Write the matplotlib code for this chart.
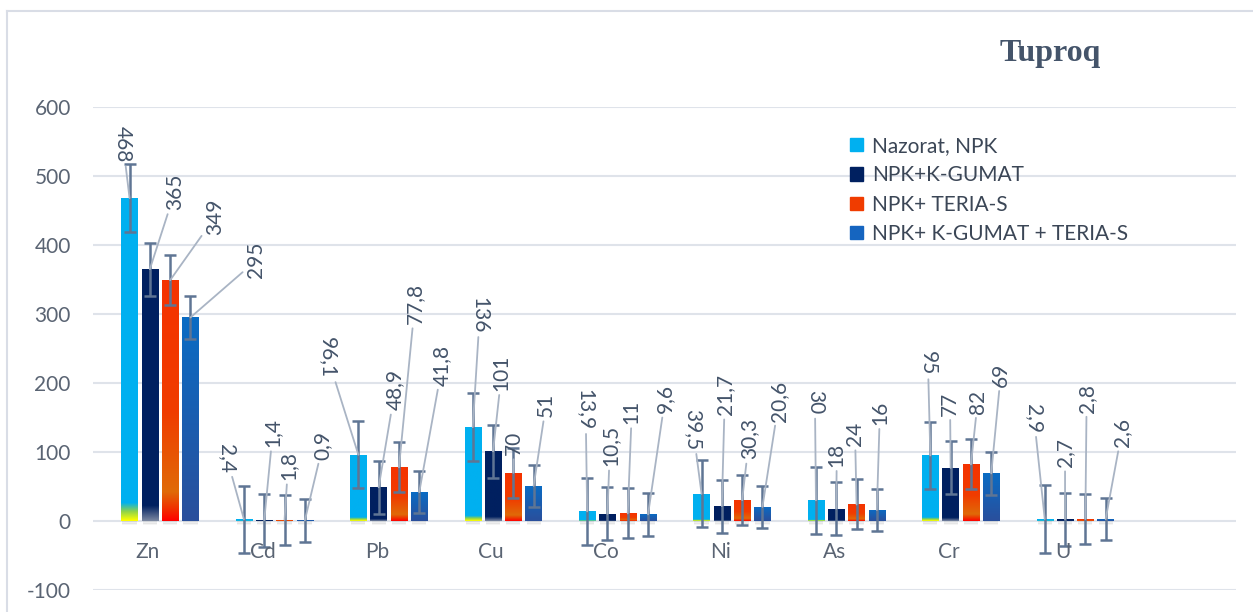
import numpy as np
import matplotlib
matplotlib.use('Agg')
import matplotlib.pyplot as plt
from matplotlib.colors import LinearSegmentedColormap
from matplotlib.patches import Rectangle
from matplotlib.lines import Line2D

# ---------------- data ----------------
categories = ['Zn', 'Cd', 'Pb', 'Cu', 'Co', 'Ni', 'As', 'Cr', 'U']
series_names = ['Nazorat, NPK', 'NPK+K-GUMAT', 'NPK+ TERIA-S', 'NPK+ K-GUMAT + TERIA-S']
nazorat = [468, 2.4, 96.1, 136, 13.9, 39.5, 30, 95, 2.9]
k_gumat = [365, 1.4, 48.9, 101, 10.5, 21.7, 18, 77, 2.7]
teria_s = [349, 1.8, 77.8, 70, 11, 30.3, 24, 82, 2.8]
k_gumat_teria_s = [295, 0.9, 41.8, 51, 9.6, 20.6, 16, 69, 2.6]
std_error = [48.8, 38.4, 36.2, 30.8]
y_ticks = [-100, 0, 100, 200, 300, 400, 500, 600]
title = 'Tuproq'

series = [nazorat, k_gumat, teria_s, k_gumat_teria_s]

# ---------------- layout / style ----------------
plt.rcParams['font.family'] = ['Lato', 'DejaVu Sans']
plt.rcParams['axes.unicode_minus'] = False

W, H = 1253, 612
fig = plt.figure(figsize=(W / 100, H / 100), dpi=100)
ax = fig.add_axes([93 / W, (H - 590) / H, (1236 - 93) / W, (590 - 107) / H])

PX_CAT = 114.4            # pixels per category
step = 20.3 / PX_CAT      # distance between bars in a group
bw = 16.5 / PX_CAT        # bar width

grad_stops = [
    [(0.0, '#00b0f0'), (0.945, '#00b0f0'), (0.972, '#8fd34a'), (1.0, '#ffff00')],
    [(0.0, '#002060'), (0.94, '#002060'), (1.0, '#7a86a0')],
    [(0.0, '#f53300'), (0.55, '#f03c00'), (0.88, '#e06a08'), (0.95, '#f03000'), (1.0, '#ff0000')],
    [(0.0, '#0a6cc4'), (1.0, '#2a4f9c')],
]
legend_colors = ['#00b0f0', '#002060', '#f03c00', '#1565c0']
err_color = '#5f7594'
leader_color = '#a9b4c4'
label_color = '#44546a'

# label placement: horizontal offset from bar centre (px) and label centre value
label_dx = [
    [-6.5, -17, -30.6, 7, -1.5, -8.5, -1, -2.4, -10.7],
    [25, 8.5, 16.3, 8.6, 2.5, 3, 0.5, -0.6, 0],
    [45, 3.5, 16, 0.6, 4, 7, -1.5, 6.7, 1.3],
    [66, 18, 23, 12.3, 17, 16.5, 3, 9.5, 16],
]
label_y = [
    [546, 91, 237, 299, 162, 133, 172, 229, 149],
    [477, 128, 190, 215, 109, 183, 96, 170, 99],
    [441, 80, 315, 113, 158, 119, 126, 173, 178],
    [378, 110, 226, 168, 177, 174, 157, 212, 128],
]

def fmt(v):
    if float(v).is_integer():
        return str(int(v))
    return str(v).replace('.', ',')

x = np.arange(len(categories))
for j, vals in enumerate(series):
    xs = x + (j - 1.5) * step
    bars = ax.bar(xs, vals, bw, color=legend_colors[j], zorder=2, linewidth=0)
    cmap = LinearSegmentedColormap.from_list('g%d' % j, grad_stops[j])
    grad = np.linspace(0, 1, 256).reshape(-1, 1)
    for rect in bars:
        x0 = rect.get_x()
        h = rect.get_height()
        im = ax.imshow(grad, extent=[x0, x0 + bw, 0, h], aspect='auto', cmap=cmap,
                       origin='upper', zorder=2.1, interpolation='bilinear')
        im.set_clip_path(rect)
        # soft shadow below the bar
        for k, a in enumerate([0.08, 0.12, 0.16]):
            ax.add_patch(Rectangle((x0 + 0.01, -1.5 - 2.5 * (2 - k)), bw - 0.02, 2.5 + 2.5 * (2 - k) * 0.2,
                                   color='#808080', alpha=a, lw=0, zorder=1.5))
    ax.errorbar(xs, vals, yerr=std_error[j], fmt='none', ecolor=err_color,
                elinewidth=1.8, capsize=4, capthick=1.8, zorder=3)
    for i, v in enumerate(vals):
        ax.annotate(fmt(v), xy=(xs[i], v),
                    xytext=(xs[i] + label_dx[j][i] / PX_CAT, label_y[j][i]),
                    textcoords='data', ha='center', va='center',
                    rotation=270 if j == 0 else 90, fontsize=15, color=label_color,
                    zorder=5, annotation_clip=False,
                    arrowprops=dict(arrowstyle='-', color=leader_color, lw=1.3,
                                    shrinkA=1, shrinkB=0))

for i, c in enumerate(categories):
    ax.text(i - 12 / PX_CAT, -45, c, ha='center', va='center', fontsize=15,
            color='#5a6473', zorder=4)

ax.set_xlim(-67 / PX_CAT, (1236 - 160) / PX_CAT)
ax.set_ylim(-100, 600)
ax.set_yticks(y_ticks)
ax.set_xticks([])
ax.tick_params(axis='y', length=0, pad=16, labelsize=15, labelcolor='#5a6473')
ax.yaxis.grid(True, color='#dfe3ea', lw=1.5)
ax.set_axisbelow(True)
for s in ax.spines.values():
    s.set_visible(False)

handles = [Rectangle((0, 0), 1, 1, color=c) for c in legend_colors]
fig.legend(handles, series_names, loc='upper left', bbox_to_anchor=(850 / W, 1 - 136 / H),
           bbox_transform=fig.transFigure, frameon=False, fontsize=15,
           handlelength=0.6, handleheight=0.6, handletextpad=0.45, labelspacing=0.45,
           borderpad=0, borderaxespad=0, labelcolor='#3b4656')

fig.text(1050 / W, 1 - 54 / H, title, family='Liberation Serif', weight='bold',
         size=23, color='#44546a', ha='center', va='center')

fig.add_artist(Line2D([7 / W, 7 / W], [0, 1 - 11 / H], transform=fig.transFigure,
                      color='#d9dde6', lw=1.5))
fig.add_artist(Line2D([7 / W, 1], [1 - 11 / H, 1 - 11 / H], transform=fig.transFigure,
                      color='#d9dde6', lw=1.5))

fig.savefig('out.png', dpi=100)
